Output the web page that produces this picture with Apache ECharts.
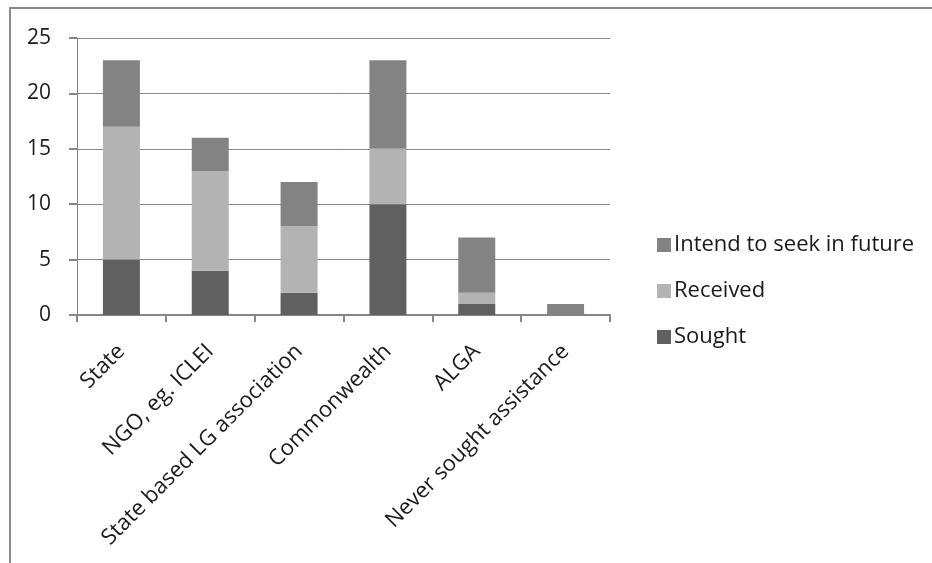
<!DOCTYPE html>
<html>
<head>
<meta charset="utf-8">
<script src="https://cdn.jsdelivr.net/npm/echarts@6/dist/echarts.min.js"></script>
<style>
  html, body { margin: 0; padding: 0; background: #ffffff; }
  #chart { width: 932px; height: 563px; }
</style>
</head>
<body>
<div id="chart"></div>
<script>
// Sources of assistance, counted by response type
const categories = ['State', 'NGO, eg. ICLEI', 'State based LG association', 'Commonwealth', 'ALGA', 'Never sought assistance'];
const sought = [5, 4, 2, 10, 1, 0];
const received = [12, 9, 6, 5, 1, 0];
const intendToSeek = [6, 3, 4, 8, 5, 1];
const yTicks = { min: 0, max: 25, interval: 5 };

const FONT = 'Open Sans';
const chart = echarts.init(document.getElementById('chart'), null, { renderer: 'canvas' });

const barBase = { type: 'bar', stack: 'total', barWidth: 37, emphasis: { disabled: true } };

chart.setOption({
  animation: false,
  backgroundColor: '#ffffff',
  textStyle: { fontFamily: FONT },
  grid: { left: 77, right: 322, top: 38, bottom: 248, containLabel: false },
  legend: {
    orient: 'vertical',
    left: 652,
    top: 229,
    itemWidth: 14,
    itemHeight: 14,
    itemGap: 24,
    itemStyle: { borderWidth: 0 },
    icon: 'rect',
    selectedMode: false,
    data: ['Intend to seek in future', 'Received', 'Sought'],
    textStyle: { fontFamily: FONT, fontSize: 22, color: '#1a1a1a', padding: [0, 0, 0, -2] }
  },
  xAxis: {
    type: 'category',
    data: categories,
    axisLine: { lineStyle: { color: '#868686', width: 2 } },
    axisTick: { show: true, length: 7, lineStyle: { color: '#868686', width: 2 } },
    axisLabel: {
      rotate: 45,
      interval: 0,
      margin: 33,
      fontFamily: FONT,
      fontSize: 22,
      color: '#1a1a1a'
    },
    splitLine: { show: false }
  },
  yAxis: {
    type: 'value',
    min: yTicks.min,
    max: yTicks.max,
    interval: yTicks.interval,
    axisLine: { show: true, lineStyle: { color: '#868686', width: 1 } },
    axisTick: { show: true, inside: false, length: 8, lineStyle: { color: '#868686', width: 2 } },
    axisLabel: { margin: 26, fontFamily: FONT, fontSize: 21, color: '#1a1a1a' },
    splitLine: { show: true, lineStyle: { color: '#868686', width: 1 } }
  },
  series: [
    Object.assign({}, barBase, { name: 'Sought', data: sought, itemStyle: { color: '#606060' } }),
    Object.assign({}, barBase, { name: 'Received', data: received, itemStyle: { color: '#b3b3b3' } }),
    Object.assign({}, barBase, { name: 'Intend to seek in future', data: intendToSeek, itemStyle: { color: '#838383' } })
  ],
  graphic: [
    {
      type: 'polyline',
      silent: true,
      shape: { points: [[10, 563], [10, 8], [932, 8]] },
      style: { stroke: '#8a8a8a', lineWidth: 2, fill: null }
    }
  ]
});
</script>
</body>
</html>
